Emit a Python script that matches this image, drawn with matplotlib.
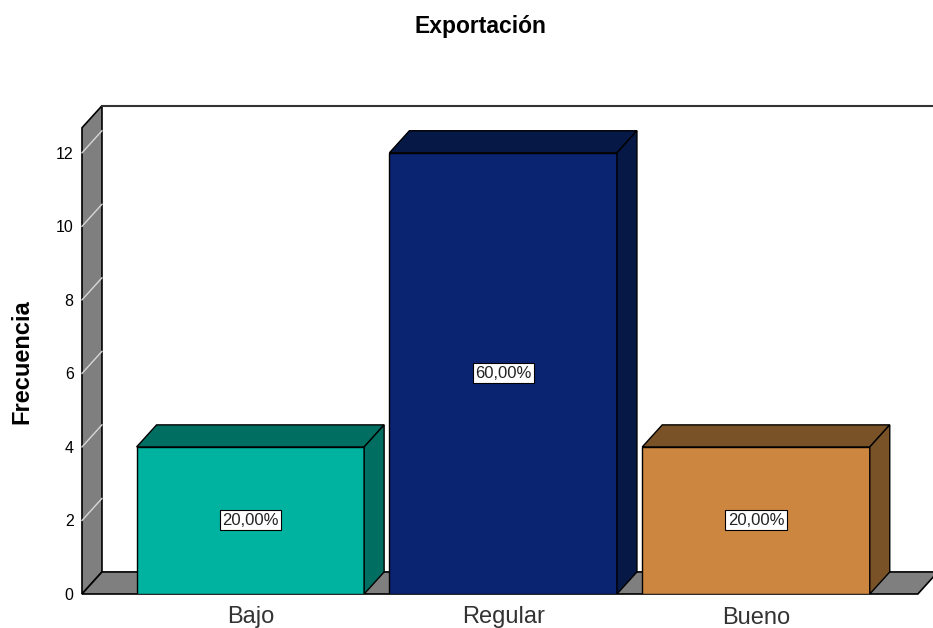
import numpy as np
import matplotlib.pyplot as plt
from matplotlib.patches import Polygon

plt.rcParams['font.family'] = ['Liberation Sans', 'DejaVu Sans']

categories = ["Bajo", "Regular", "Bueno"]
counts = [4, 12, 4]
percents = ["20,00%", "60,00%", "20,00%"]
front_colors = ["#00b3a0", "#0a2472", "#cd8640"]
dark_colors = ["#006e60", "#061846", "#7a5228"]
yticks = [0, 2, 4, 6, 8, 10, 12]

# depth of the fake 3D effect, in data units
dx, dy = 0.079, 0.6
width = 0.9
wall_gray = "#7f7f7f"

fig = plt.figure(figsize=(9.33, 6.28), dpi=100)
ax = fig.add_axes([82 / 933, 34 / 628, 1 - 82 / 933, (594 - 105) / 628])
x0, x1 = -0.666, 2.70
ax.set_xlim(x0, x1)
ax.set_ylim(0, 13.3)
for s in ax.spines.values():
    s.set_visible(False)

wall_top = 12.68
xf = 2.64

# left wall
ax.add_patch(Polygon([(x0, 0), (x0, wall_top), (x0 + dx, wall_top + dy), (x0 + dx, dy)],
                     closed=True, facecolor=wall_gray, edgecolor="black", lw=1.2,
                     clip_on=False, zorder=1))
# floor
ax.add_patch(Polygon([(x0, 0), (xf, 0), (xf + dx, dy), (x0 + dx, dy)],
                     closed=True, facecolor=wall_gray, edgecolor="black", lw=1.2,
                     clip_on=False, zorder=1))
# back wall top edge
ax.plot([x0 + dx, x1 + 0.1], [wall_top + dy, wall_top + dy], color="#333333", lw=1.5,
        clip_on=False, zorder=1)
# grid marks on the wall
for t in yticks[1:]:
    ax.plot([x0, x0 + dx], [t, t + dy], color="#d8d8d8", lw=1, zorder=2, clip_on=False)

xs = np.arange(len(categories))
ax.bar(xs, counts, width=width, color=front_colors, edgecolor="black", lw=1, zorder=3)
for x, v, dc, p in zip(xs, counts, dark_colors, percents):
    l, r = x - width / 2, x + width / 2
    ax.add_patch(Polygon([(l, v), (r, v), (r + dx, v + dy), (l + dx, v + dy)],
                         closed=True, facecolor=dc, edgecolor="black", lw=1, zorder=3,
                         clip_on=False))
    ax.add_patch(Polygon([(r, 0), (r + dx, dy), (r + dx, v + dy), (r, v)],
                         closed=True, facecolor=dc, edgecolor="black", lw=1, zorder=3))
    ax.text(x, v / 2, p, ha="center", va="center", fontsize=12, zorder=4, color="#222222",
            bbox=dict(boxstyle="square,pad=0.15", facecolor="white", edgecolor="black", lw=0.8))

ax.set_yticks(yticks)
ax.set_xticks(xs)
ax.set_xticklabels(categories, fontsize=17, color="#333333")
ax.tick_params(axis="y", length=0, pad=6, labelsize=11.5)
ax.tick_params(axis="x", length=0, pad=9)

fig.text(480 / 933, 1 - 27 / 628, "Exportación", ha="center", va="center",
         fontsize=16.5, fontweight="bold")
fig.text(22 / 933, 1 - 362 / 628, "Frecuencia", ha="center", va="center",
         rotation=90, fontsize=17, fontweight="bold")

fig.savefig("out.png", dpi=100)
